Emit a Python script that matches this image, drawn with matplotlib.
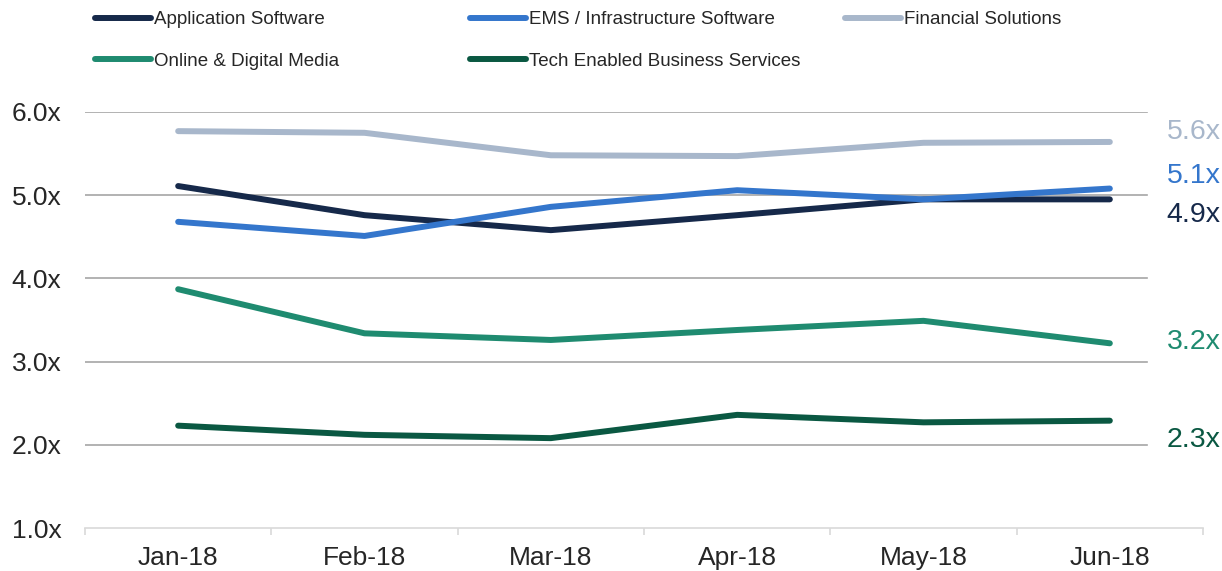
import matplotlib
matplotlib.use("Agg")
import matplotlib.pyplot as plt
from matplotlib.lines import Line2D

plt.rcParams['font.family'] = ['Liberation Sans', 'DejaVu Sans']

# Donnees
months = ["Jan-18", "Feb-18", "Mar-18", "Apr-18", "May-18", "Jun-18"]
application = [5.11, 4.76, 4.58, 4.76, 4.95, 4.95]
ems = [4.68, 4.51, 4.86, 5.06, 4.95, 5.08]
financial = [5.77, 5.75, 5.48, 5.47, 5.63, 5.64]
online = [3.87, 3.34, 3.26, 3.38, 3.49, 3.22]
tech = [2.23, 2.12, 2.08, 2.36, 2.27, 2.29]
end_labels = ["4.9x", "5.1x", "5.6x", "3.2x", "2.3x"]
names = ["Application Software", "EMS / Infrastructure Software",
         "Financial Solutions", "Online & Digital Media",
         "Tech Enabled Business Services"]
colors = ["#16294A", "#3476CC", "#A8B7CB", "#1F8B70", "#0A5842"]
# decalage (en points) des etiquettes de fin de serie
label_dy = [-11, 9, 7, 1, -14]

series = [application, ems, financial, online, tech]

fig = plt.figure(figsize=(12.22, 5.71), dpi=100)
ax = fig.add_axes([85 / 1222, 43 / 571, 1118 / 1222, 416 / 571])

x = list(range(len(months)))
for vals, col, name in zip(series, colors, names):
    ax.plot(x, vals, color=col, lw=4.3, solid_capstyle='round',
            solid_joinstyle='round', label=name, zorder=3)

# etiquettes a droite
for vals, col, lab, dy in zip(series, colors, end_labels, label_dy):
    ax.annotate(lab, xy=(x[-1], vals[-1]), xytext=(41, dy),
                textcoords='offset points', color=col, fontsize=20.5,
                va='center', ha='left', annotation_clip=False)

ax.set_xlim(-0.5, len(months) - 0.5)
ax.set_ylim(1.0, 6.0)
ax.set_yticks([1, 2, 3, 4, 5, 6])
ax.set_yticklabels([f"{v:.1f}x" for v in [1, 2, 3, 4, 5, 6]])
ax.set_xticks(x)
ax.set_xticklabels(months)
ax.set_xticks([i - 0.5 for i in range(len(months) + 1)], minor=True)

for y in [2, 3, 4, 5, 6]:
    ax.axhline(y, xmin=0, xmax=0.95, color="#A6A6A6", lw=1.2, zorder=1)

for s in ['top', 'right', 'left']:
    ax.spines[s].set_visible(False)
ax.spines['bottom'].set_color("#D9D9D9")
ax.spines['bottom'].set_linewidth(1.2)

ax.tick_params(axis='y', length=0, pad=17, labelsize=19, labelcolor="#262626")
ax.tick_params(axis='x', which='major', length=0, pad=13, labelsize=19,
               labelcolor="#262626")
ax.tick_params(axis='x', which='minor', length=5, width=1.2, color="#D9D9D9")

# legende : trois colonnes placees a la main
columns = [[0, 3], [1, 4], [2]]
col_x = [95, 470, 845]
for cx, idxs in zip(col_x, columns):
    handles = [Line2D([], [], color=colors[i], lw=4.3, solid_capstyle='round')
               for i in idxs]
    fig.legend(handles, [names[i] for i in idxs],
               loc='upper left', bbox_to_anchor=(cx / 1222, 1 - 11 / 571),
               frameon=False, fontsize=13.5, handlelength=3.0,
               handletextpad=0.15, labelspacing=1.3, borderpad=0,
               borderaxespad=0, labelcolor="#262626")

fig.savefig("out.png", dpi=100)
